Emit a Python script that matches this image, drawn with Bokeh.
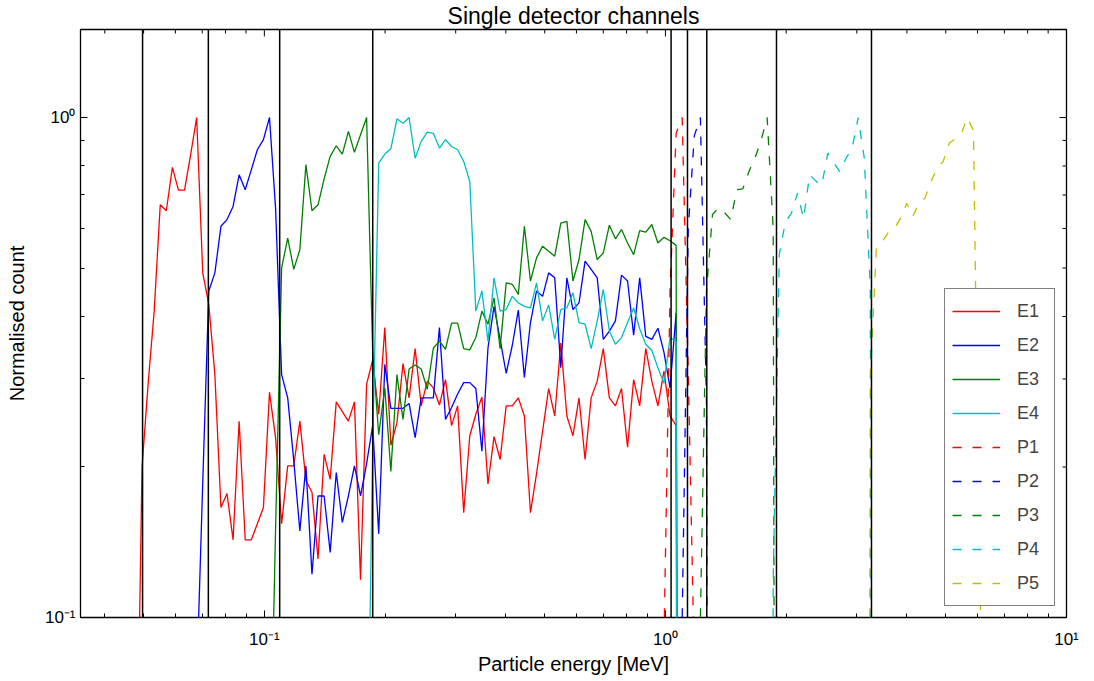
import numpy as np
from bokeh.plotting import figure
from bokeh.models import (Range1d, Span, Legend, LegendItem, FixedTicker,
                          CustomJSTickFormatter)
from bokeh.embed import file_html
from bokeh.resources import INLINE

# ---------------- data ----------------
# logarithmic energy grid of the simulation bins (MeV)
GRID_LOG10_FIRST = -1.3201
GRID_LOG10_STEP = 0.015132
GRID_SIZE = 142
energy_mev = 10 ** (GRID_LOG10_FIRST + GRID_LOG10_STEP * np.arange(GRID_SIZE))

# first grid bin of each channel and its normalised counts
e1_first = 0
e1_counts = [0.035, 0.200, 0.293, 0.410, 0.669, 0.651, 0.795, 0.716, 0.716, 0.842,
             1.000, 0.489, 0.423, 0.306, 0.166, 0.177, 0.143, 0.247, 0.143, 0.143,
             0.154, 0.166, 0.282, 0.229, 0.154, 0.201, 0.201, 0.247, 0.188, 0.178,
             0.131, 0.212, 0.189, 0.270, 0.258, 0.247, 0.270, 0.119, 0.293, 0.327,
             0.255, 0.380, 0.221, 0.245, 0.322, 0.275, 0.345, 0.265, 0.297, 0.288,
             0.266, 0.299, 0.242, 0.265, 0.162, 0.231, 0.255, 0.276, 0.185, 0.230,
             0.207, 0.265, 0.265, 0.275, 0.253, 0.162, 0.194, 0.236, 0.287, 0.253,
             0.354, 0.253, 0.231, 0.275, 0.207, 0.275, 0.297, 0.345, 0.275, 0.265,
             0.287, 0.219, 0.299, 0.265, 0.345, 0.297, 0.265, 0.311, 0.253, 0.242,
             0.0]
e2_first = 10
e2_counts = [0.074, 0.186, 0.450, 0.489, 0.606, 0.625, 0.664, 0.768, 0.717, 0.786,
             0.862, 0.903, 1.000, 0.659, 0.306, 0.275, 0.206, 0.149, 0.201, 0.122,
             0.175, 0.175, 0.135, 0.195, 0.155, 0.175, 0.201, 0.175, 0.203, 0.242,
             0.147, 0.321, 0.262, 0.262, 0.262, 0.268, 0.229, 0.275, 0.275, 0.275,
             0.380, 0.249, 0.263, 0.280, 0.295, 0.295, 0.287, 0.215, 0.346, 0.419,
             0.360, 0.308, 0.350, 0.412, 0.302, 0.389, 0.450, 0.439, 0.489, 0.478,
             0.316, 0.478, 0.413, 0.426, 0.516, 0.497, 0.478, 0.360, 0.374, 0.392,
             0.484, 0.471, 0.367, 0.478, 0.365, 0.360, 0.379, 0.339, 0.288, 0.407,
             0.0]
e3_first = 22
e3_counts = [0.041, 0.150, 0.500, 0.574, 0.497, 0.544, 0.805, 0.651,
             0.669, 0.754, 0.836, 0.878, 0.845, 0.938, 0.852, 0.924, 1.000, 0.340,
             0.232, 0.288, 0.196, 0.306, 0.249, 0.314, 0.320, 0.314, 0.286, 0.346,
             0.357, 0.344, 0.388, 0.388, 0.345, 0.343, 0.363, 0.410, 0.386, 0.436,
             0.345, 0.467, 0.464, 0.443, 0.606, 0.471, 0.524, 0.553, 0.540, 0.528,
             0.615, 0.620, 0.471, 0.520, 0.625, 0.592, 0.520, 0.536, 0.609, 0.572,
             0.597, 0.561, 0.532, 0.594, 0.590, 0.611, 0.561, 0.576, 0.567, 0.555,
             0.0]
e4_first = 38
e4_counts = [0.035, 0.220,
             0.811, 0.845, 0.866, 0.994, 0.974, 1.000, 0.829, 0.896, 0.935, 0.930,
             0.869, 0.903, 0.875, 0.862, 0.817, 0.745, 0.410, 0.450, 0.357, 0.478,
             0.410, 0.413, 0.439, 0.426, 0.419, 0.416, 0.467, 0.392, 0.422, 0.360,
             0.413, 0.416, 0.446, 0.389, 0.386, 0.345, 0.392, 0.453, 0.374, 0.352,
             0.363, 0.389, 0.416, 0.378, 0.352, 0.342, 0.316, 0.294, 0.363, 0.357,
             0.0]
p1_first = 86
p1_counts = [0.0, 0.09, 0.45, 0.93, 1.00, 0.31, 0.08, 0.0]
p2_first = 89
p2_counts = [0.0, 0.10, 0.60, 0.92, 1.00, 0.27, 0.0]
p3_first = 92
p3_counts = [0.0, 0.10, 0.45, 0.64, 0.66, 0.645, 0.625, 0.717, 0.72, 0.78,
             0.83, 0.90, 1.00, 0.60, 0.0]
p4_first = 104
p4_counts = [0.0, 0.12, 0.532, 0.618, 0.644, 0.706, 0.628, 0.768, 0.747, 0.732,
             0.849, 0.811, 0.778, 0.829, 0.867, 1.00, 0.83, 0.456, 0.0]
p5_first = 120
p5_counts = [0.0, 0.30, 0.55, 0.565, 0.59, 0.60, 0.63, 0.674, 0.634, 0.674,
             0.69, 0.745, 0.792, 0.817, 0.889, 0.906, 0.930, 1.00, 0.94, 0.115,
             0.06, 0.0]

# channel energy thresholds (MeV)
thresholds_mev = [0.0497, 0.0725, 0.1092, 0.1863, 1.033, 1.135, 1.268, 1.892, 3.264]

channel_names = ["E1", "E2", "E3", "E4", "P1", "P2", "P3", "P4", "P5"]
channel_firsts = [e1_first, e2_first, e3_first, e4_first,
                  p1_first, p2_first, p3_first, p4_first, p5_first]
channel_counts = [e1_counts, e2_counts, e3_counts, e4_counts,
                  p1_counts, p2_counts, p3_counts, p4_counts, p5_counts]
channel_colors = ["#ff0000", "#0000ff", "#008000", "#00bfbf",
                  "#ff0000", "#0000ff", "#008000", "#00bfbf", "#bfbf00"]
channel_dash = ["solid"] * 4 + ["9 11"] * 5

x_ticks = [0.1, 1, 10]
x_minor = [0.04, 0.05, 0.06, 0.07, 0.08, 0.09,
           0.2, 0.3, 0.4, 0.5, 0.6, 0.7, 0.8, 0.9,
           2, 3, 4, 5, 6, 7, 8, 9]
y_ticks = [0.1, 1]
y_minor = [0.2, 0.3, 0.4, 0.5, 0.6, 0.7, 0.8, 0.9]

FONT = "Liberation Sans"
X_MIN, X_MAX = 0.0348, 10.0
Y_MIN, Y_MAX = 0.1, 1.5

# ---------------- figure ----------------
p = figure(width=1094, height=681, x_axis_type="log", y_axis_type="log",
           x_range=Range1d(X_MIN, X_MAX), y_range=Range1d(Y_MIN, Y_MAX),
           output_backend="svg", toolbar_location=None,
           title="Single detector channels",
           min_border_left=80, min_border_right=28,
           min_border_top=28, min_border_bottom=64)
p.grid.visible = False
p.outline_line_color = "black"
p.outline_line_width = 1.3
p.background_fill_color = "white"
p.border_fill_color = "white"

p.title.align = "center"
p.title.text_font = FONT
p.title.text_font_size = "23px"
p.title.text_font_style = "normal"
p.title.text_color = "black"
p.title.standoff = 1
p.title.offset = 0

fmt = CustomJSTickFormatter(code="""
const e = Math.round(Math.log10(tick));
const sup = {'-1': '\\u207b\\u00b9', '0': '\\u2070', '1': '\\u00b9'};
return '10' + sup[String(e)];
""")

x_axis = p.below[0]
y_axis = p.left[0]
x_axis.ticker = FixedTicker(ticks=x_ticks, minor_ticks=x_minor)
y_axis.ticker = FixedTicker(ticks=y_ticks, minor_ticks=y_minor)

for ax in [x_axis, y_axis]:
    ax.axis_line_color = None
    ax.major_tick_in = 7
    ax.major_tick_out = 0
    ax.minor_tick_in = 4
    ax.minor_tick_out = 0
    ax.major_tick_line_color = "black"
    ax.minor_tick_line_color = "black"
    ax.major_tick_line_width = 1
    ax.minor_tick_line_width = 1
    ax.formatter = fmt
    ax.major_label_text_font = FONT
    ax.major_label_text_font_size = "17px"
    ax.major_label_text_color = "black"
    ax.axis_label_text_font = FONT
    ax.axis_label_text_font_size = "20px"
    ax.axis_label_text_font_style = "normal"
    ax.axis_label_text_color = "black"

x_axis.axis_label = "Particle energy [MeV]"
x_axis.major_label_standoff = 12
x_axis.axis_label_standoff = 1
y_axis.axis_label = "Normalised count"
y_axis.major_label_standoff = 5
y_axis.axis_label_standoff = 14

# inward tick marks on the top and right edges (outer half clipped by the frame)
p.scatter(x_ticks, [Y_MAX] * len(x_ticks), marker="dash", angle=np.pi / 2,
          size=14, line_color="black", line_width=1)
p.scatter(x_minor, [Y_MAX] * len(x_minor), marker="dash", angle=np.pi / 2,
          size=8, line_color="black", line_width=1)
p.scatter([X_MAX] * len(y_ticks), y_ticks, marker="dash",
          size=14, line_color="black", line_width=1)
p.scatter([X_MAX] * len(y_minor), y_minor, marker="dash",
          size=8, line_color="black", line_width=1)

# channel curves (zero counts drawn far below the axis like a clipped log plot)
items = []
for name, first, counts, color, dash in zip(channel_names, channel_firsts, channel_counts,
                                            channel_colors, channel_dash):
    xs = energy_mev[first:first + len(counts)]
    ys = np.maximum(np.array(counts, dtype=float), 1e-6)
    r = p.line(xs, ys, line_color=color, line_width=1.3, line_dash=dash)
    items.append(LegendItem(label=name, renderers=[r]))

for t in thresholds_mev:
    p.add_layout(Span(location=t, dimension="height", line_color="black", line_width=1.5))

legend = Legend(items=items, location="bottom_right",
                margin=11, padding=7, spacing=4,
                glyph_width=48, glyph_height=30, label_height=30, label_width=30,
                label_standoff=17,
                label_text_font=FONT, label_text_font_size="18px",
                border_line_color="black", border_line_width=1.3,
                background_fill_color="white", background_fill_alpha=1.0)
p.add_layout(legend)

open("out.html", "w").write(file_html(p, INLINE))
